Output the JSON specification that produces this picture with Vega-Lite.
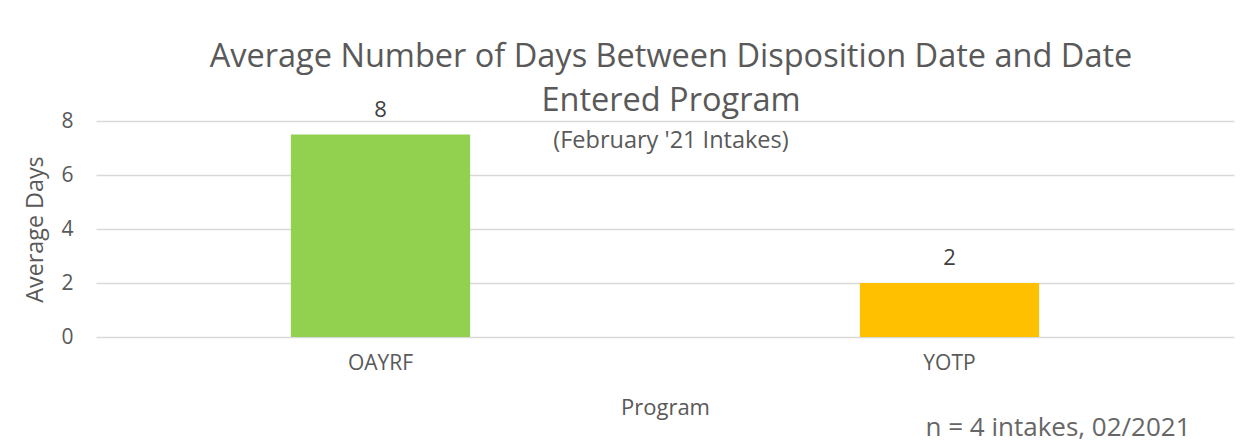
{
  "$schema": "https://vega.github.io/schema/vega-lite/v6.json",
  "width": 1138,
  "height": 216,
  "autosize": {"type": "none"},
  "padding": {"left": 96, "top": 121, "right": 14, "bottom": 108},
  "background": "white",
  "config": {
    "font": "Open Sans",
    "view": {"stroke": null}
  },
  "title": {
    "text": ["Average Number of Days Between Disposition Date and Date", "Entered Program"],
    "subtitle": "(February '21 Intakes)",
    "anchor": "middle",
    "font": "Open Sans",
    "fontSize": 32.5,
    "fontWeight": "normal",
    "color": "#595959",
    "lineHeight": 44,
    "subtitleFont": "Open Sans",
    "subtitleFontSize": 23.5,
    "subtitleColor": "#595959",
    "subtitlePadding": 12,
    "offset": -54,
    "dx": 6
  },
  "data": {
    "values": [
      {"program": "OAYRF", "days": 7.5},
      {"program": "YOTP", "days": 2}
    ]
  },
  "layer": [
    {
      "layer": [
        {
          "mark": {"type": "bar"},
          "encoding": {
            "x": {
              "field": "program",
              "type": "nominal",
              "sort": null,
              "scale": {"paddingInner": 0.685, "paddingOuter": 0.3425},
              "axis": {
                "title": "Program",
                "labelAngle": 0,
                "labelFontSize": 21,
                "labelColor": "#595959",
                "labelPadding": 15,
                "ticks": false,
                "domain": false,
                "titleFontSize": 22,
                "titleFontWeight": "normal",
                "titleColor": "#595959",
                "titleBaseline": "middle",
                "titleY": 70
              }
            },
            "y": {
              "field": "days",
              "type": "quantitative",
              "scale": {"domain": [0, 8], "nice": false},
              "axis": {
                "title": "Average Days",
                "values": [0, 2, 4, 6, 8],
                "labelFontSize": 21,
                "labelColor": "#595959",
                "labelPadding": 23,
                "ticks": false,
                "domain": false,
                "grid": true,
                "gridColor": "#d9d9d9",
                "gridWidth": 1.3,
                "titleFontSize": 23.3,
                "titleFontWeight": "normal",
                "titleColor": "#595959",
                "titlePadding": 13
              }
            },
            "color": {
              "field": "program",
              "type": "nominal",
              "scale": {"domain": ["OAYRF", "YOTP"], "range": ["#92D050", "#FFC000"]},
              "legend": null
            }
          }
        },
        {
          "mark": {"type": "text", "fontSize": 22, "color": "#404040", "dy": -13, "baseline": "bottom"},
          "encoding": {
            "x": {"field": "program", "type": "nominal", "sort": null},
            "y": {"field": "days", "type": "quantitative"},
            "text": {"field": "days", "type": "quantitative", "format": ".0f"}
          }
        }
      ]
    },
    {
      "mark": {"type": "text", "opacity": 0},
      "encoding": {
        "x": {
          "field": "program",
          "type": "nominal",
          "sort": null,
          "axis": {
            "orient": "bottom",
            "title": "n = 4 intakes, 02/2021",
            "labels": false,
            "ticks": false,
            "domain": false,
            "grid": false,
            "titleFontSize": 26,
            "titleFontWeight": "normal",
            "titleColor": "#666666",
            "titleAnchor": "end",
            "titleAlign": "right",
            "titleBaseline": "middle",
            "titleX": 1094,
            "titleY": 90
          }
        },
        "y": {"field": "days", "type": "quantitative"},
        "text": {"value": ""}
      }
    }
  ],
  "resolve": {"scale": {"x": "independent"}, "axis": {"x": "independent"}}
}
